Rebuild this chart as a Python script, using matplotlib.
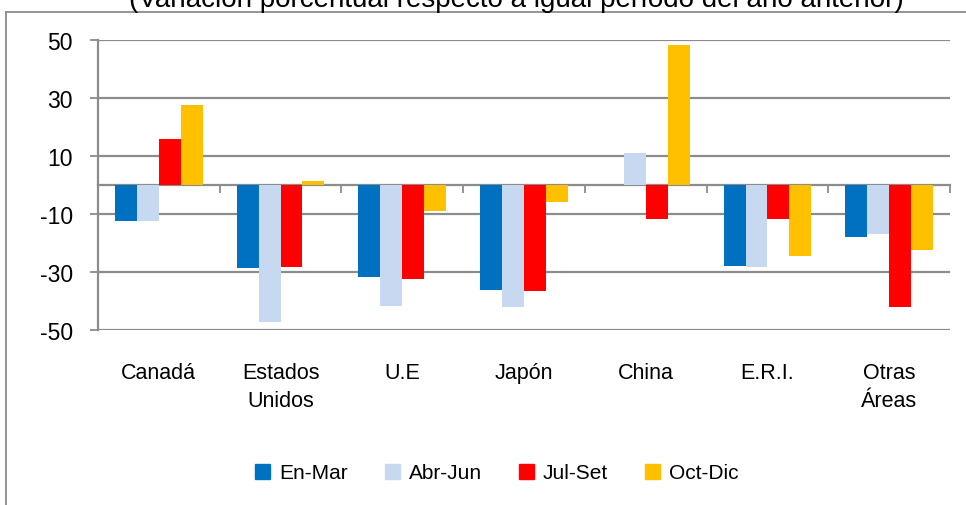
import numpy as np
import matplotlib.pyplot as plt
from matplotlib.lines import Line2D

plt.rcParams['font.family'] = ['Liberation Sans', 'DejaVu Sans']
plt.rcParams['axes.unicode_minus'] = False

regiones = ['Canadá', 'Estados\nUnidos', 'U.E', 'Japón', 'China', 'E.R.I.', 'Otras\nÁreas']
trimestres = ['En-Mar', 'Abr-Jun', 'Jul-Set', 'Oct-Dic']
en_mar = [-12.3, -28.7, -31.6, -36.1, 0.0, -27.8, -17.8]
abr_jun = [-12.3, -47.1, -41.6, -42.0, 11.0, -28.2, -16.8]
jul_set = [15.9, -28.2, -32.3, -36.4, -11.6, -11.6, -42.0]
oct_dic = [27.6, 1.4, -8.9, -5.7, 48.3, -24.4, -22.3]
colores = ['#0070C0', '#C6D9F1', '#FF0000', '#FFC000']
titulo = '(Variación porcentual respecto a igual período del año anterior)'

series = [en_mar, abr_jun, jul_set, oct_dic]
gris = '#8C8C8C'

fig = plt.figure(figsize=(9.66, 5.06), dpi=100)
ax = fig.add_axes([98/966, 1-331/506, (950-98)/966, 290/506])

x = np.arange(len(regiones))
w = 0.18
for i, (vals, c) in enumerate(zip(series, colores)):
    ax.bar(x + (i - 1.5)*w, vals, width=w, color=c, zorder=3)

ax.set_xlim(-0.5, len(regiones) - 0.5)
ax.set_ylim(-50, 50)
ax.set_yticks([-50, -30, -10, 10, 30, 50])
ax.yaxis.grid(True, color=gris, linewidth=1.6, zorder=0)
ax.tick_params(axis='y', length=6, width=1.3, color=gris, labelsize=16.5, pad=12)
ax.set_xticks(x)
ax.set_xticklabels(regiones, fontsize=15.5, linespacing=1.45)
ax.tick_params(axis='x', length=0, pad=23)
for s in ['top', 'right', 'bottom']:
    ax.spines[s].set_visible(False)
ax.spines['left'].set_color(gris)
ax.spines['left'].set_linewidth(1.6)

# eje de categorias en cero
sec = ax.secondary_xaxis(0.5)
sec.set_alignment('bottom')
sec.set_xticks(np.arange(len(regiones) + 1) - 0.5)
sec.set_xticklabels([])
sec.tick_params(length=6, width=1.3, color=gris, direction='out')
for s in sec.spines.values():
    s.set_color(gris)
    s.set_linewidth(1.6)

# marco exterior
fig.add_artist(Line2D([6/966, 6/966], [0, 1-13/506], color=gris, linewidth=1.3))
fig.add_artist(Line2D([6/966, 1], [1-13/506, 1-13/506], color=gris, linewidth=1.3))

fig.text(516/966, 1-7/506, titulo, ha='center', va='baseline', fontsize=20)

handles = [plt.Rectangle((0, 0), 1, 1, color=c) for c in colores]
fig.legend(handles, trimestres, loc='center', bbox_to_anchor=(497/966, 1-474/506),
           ncol=4, frameon=False, fontsize=15, handlelength=0.72, handleheight=0.72,
           handletextpad=0.45, columnspacing=1.75)

fig.savefig('out.png', dpi=100)
